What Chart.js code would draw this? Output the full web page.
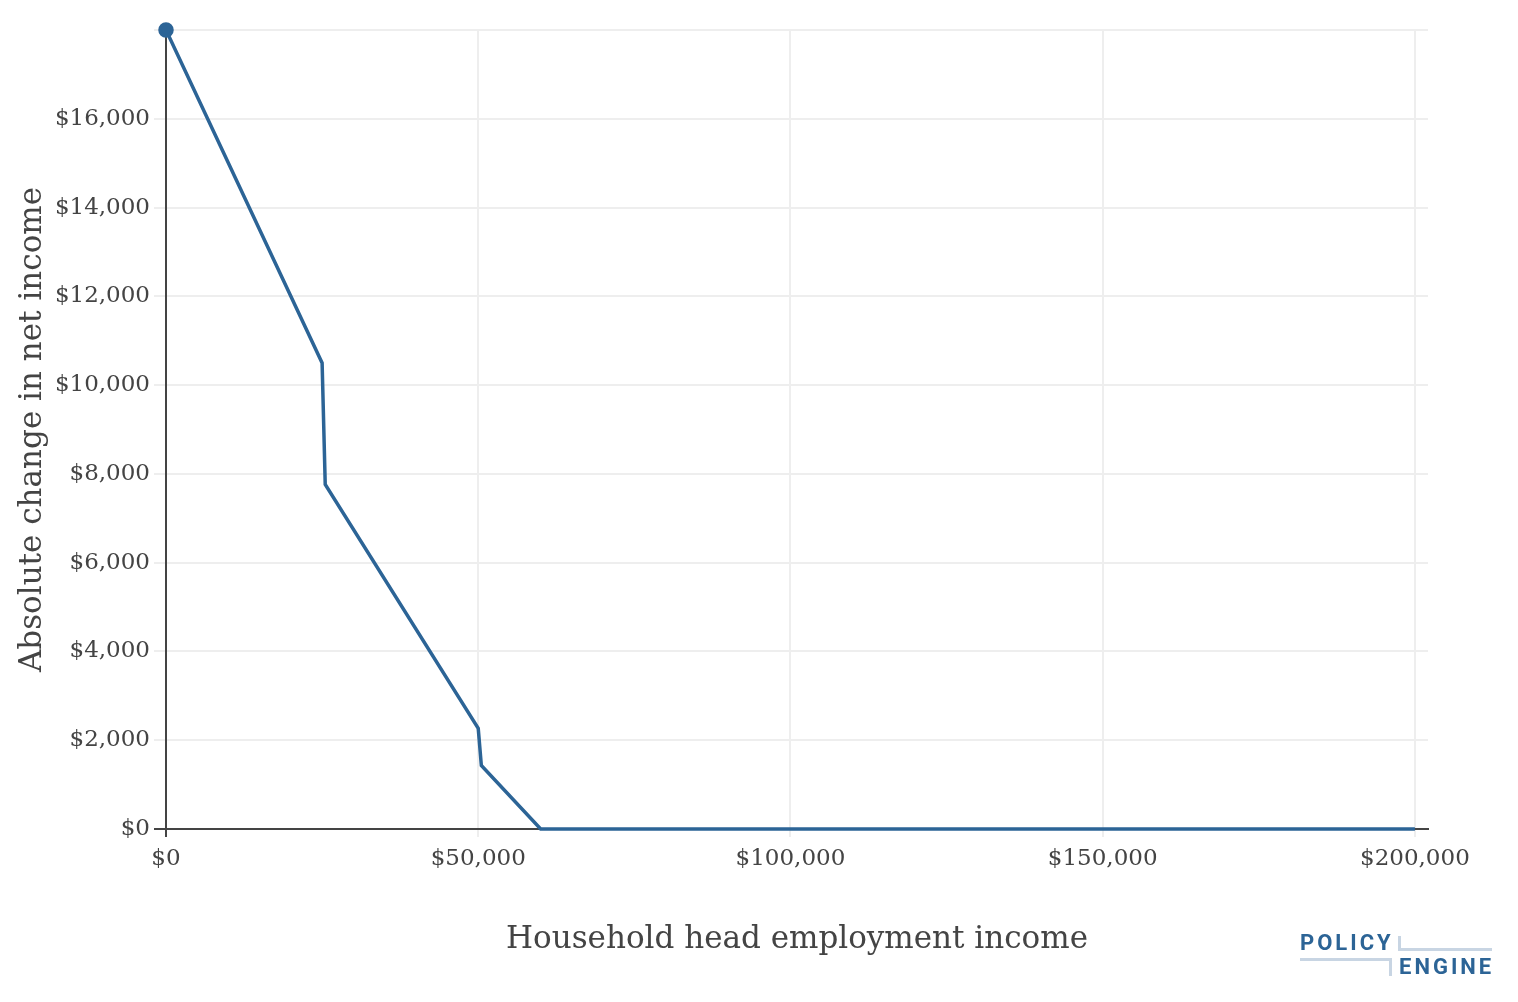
<!DOCTYPE html>
<html>
<head>
<meta charset="utf-8">
<script src="https://cdn.jsdelivr.net/npm/chart.js@4.4.1/dist/chart.umd.min.js"></script>
<style>
    html, body { margin: 0; padding: 0; background: #fff; }
    #wrap { position: relative; width: 1518px; height: 1002px; }
    #logo { position: absolute; left: 1300px; top: 930px; width: 194px; height: 50px;
            font-family: Roboto, "DejaVu Sans", sans-serif; font-weight: 700; color: #2C6496; }
    #logo span { position: absolute; font-size: 22px; line-height: 22px; letter-spacing: 3px; white-space: nowrap; }
    #logo .policy { left: 0; top: 2px; }
    #logo .engine { left: 99px; top: 26px; }
    #logo .ln { position: absolute; background: #C8D5E3; }
</style>
</head>
<body>
<div id="wrap">
    <canvas id="chart" width="1518" height="1002"></canvas>
    <div id="logo">
        <span class="policy">POLICY</span>
        <span class="engine">ENGINE</span>
        <div class="ln" style="left:0;top:28px;width:92px;height:3px;"></div>
        <div class="ln" style="left:89px;top:28px;width:3px;height:18px;"></div>
        <div class="ln" style="left:98px;top:6px;width:3px;height:15px;"></div>
        <div class="ln" style="left:98px;top:18px;width:94px;height:3px;"></div>
    </div>
</div>
<script>
/* ---------- data ---------- */
const incomes = [0, 25000, 25500, 50000, 50500, 60000, 200000];
const netChange = [18000, 10500, 7760, 2270, 1430, 0, 0];
const xTicks = [0, 50000, 100000, 150000, 200000];
const yTicks = [0, 2000, 4000, 6000, 8000, 10000, 12000, 14000, 16000, 18000];

const xTitle = 'Household head employment income';
const yTitle = 'Absolute change in net income';

/* ---------- style ---------- */
const lineBlue = '#2C6496';
const textGrey = '#444444';
const gridGrey = '#EEEEEE';
const serif = '"DejaVu Serif", serif';

const money = v => '$' + v.toLocaleString('en-US');
const isZero = ctx => ctx.tick && ctx.tick.value === 0;

const points = incomes.map((x, i) => ({ x: x, y: netChange[i] }));

new Chart(document.getElementById('chart'), {
    type: 'scatter',
    data: {
        datasets: [{
            data: points,
            showLine: true,
            borderColor: lineBlue,
            backgroundColor: lineBlue,
            borderWidth: 3.5,
            pointRadius: points.map((p, i) => i === 0 ? 6 : 0),
            pointHoverRadius: 0,
            tension: 0,
            clip: false
        }]
    },
    options: {
        responsive: false,
        animation: false,
        layout: { padding: { left: 0, right: 90, top: 30, bottom: 0 } },
        plugins: {
            legend: { display: false },
            tooltip: { enabled: false }
        },
        scales: {
            x: {
                type: 'linear',
                min: 0,
                max: 202100,
                afterBuildTicks: axis => { axis.ticks = xTicks.map(v => ({ value: v })); },
                afterFit: axis => { axis.height = 173; },
                ticks: {
                    callback: v => money(v),
                    color: textGrey,
                    font: { family: serif, size: 23 },
                    padding: 8,
                    maxRotation: 0
                },
                grid: {
                    color: ctx => isZero(ctx) ? textGrey : gridGrey,
                    tickColor: ctx => isZero(ctx) ? textGrey : gridGrey,
                    lineWidth: 2,
                    tickLength: 8
                },
                border: { display: true, color: textGrey, width: 2 },
                title: {
                    display: true,
                    text: xTitle,
                    color: textGrey,
                    font: { family: serif, size: 31 },
                    padding: { top: 0, bottom: 43 }
                }
            },
            y: {
                type: 'linear',
                min: 0,
                max: 18000,
                afterBuildTicks: axis => { axis.ticks = yTicks.map(v => ({ value: v })); },
                afterFit: axis => { axis.width = 166; },
                ticks: {
                    callback: v => v === 18000 ? '' : money(v),
                    color: textGrey,
                    font: { family: serif, size: 23 },
                    padding: 4
                },
                grid: {
                    color: ctx => isZero(ctx) ? textGrey : gridGrey,
                    tickColor: ctx => isZero(ctx) ? textGrey : gridGrey,
                    lineWidth: 2,
                    tickLength: 12
                },
                border: { display: true, color: textGrey, width: 2 },
                title: {
                    display: true,
                    text: yTitle,
                    color: textGrey,
                    font: { family: serif, size: 31 },
                    padding: { top: 14, bottom: 0 }
                }
            }
        }
    }
});
</script>
</body>
</html>
